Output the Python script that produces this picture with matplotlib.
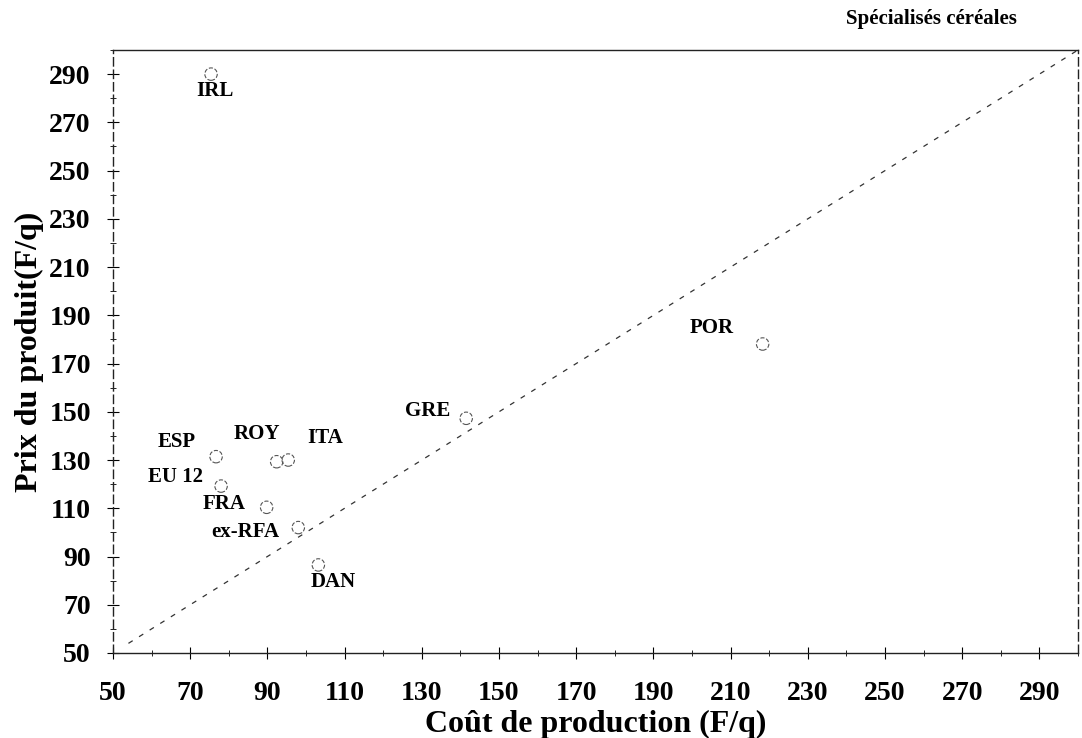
import numpy as np
import matplotlib
matplotlib.use("Agg")
import matplotlib.pyplot as plt
from matplotlib.ticker import MultipleLocator

plt.rcParams['font.family'] = ['Liberation Serif', 'DejaVu Serif']
plt.rcParams['font.weight'] = 'bold'

# data: cost of production (x) vs product price (y)
pays = ['IRL', 'POR', 'GRE', 'ESP', 'ROY', 'ITA', 'EU 12', 'FRA', 'ex-RFA', 'DAN']
cout = [75.4, 218.3, 141.5, 76.7, 92.4, 95.4, 78.0, 89.8, 98.0, 103.2]
prix = [290.0, 178.1, 147.3, 131.4, 129.3, 130.0, 119.2, 110.4, 102.0, 86.5]

ticks = list(range(50, 300, 20))

# label offsets in pixels
offsets = {
    'IRL': (4, -17), 'POR': (-51, 16), 'GRE': (-39, 7), 'ESP': (-39, 15),
    'ROY': (-20, 28), 'ITA': (37, 22), 'EU 12': (-46, 9), 'FRA': (-43, 3),
    'ex-RFA': (-53, -4), 'DAN': (15, -17),
}

fig = plt.figure(figsize=(10.82, 7.38), dpi=100)
ax = fig.add_axes([113 / 1082, 1 - 653 / 738, (1078 - 113) / 1082, (653 - 50) / 738])

ax.set_xlim(50, 300)
ax.set_ylim(50, 300)

# diagonal y = x
diag = np.array([54, 300])
ax.plot(diag, diag, color='#333333', lw=0.9, dashes=(4, 6))

ax.scatter(cout, prix, s=80, facecolors='none', edgecolors='#555555',
           linewidths=0.8, linestyles='--', zorder=3)

for p, x, y in zip(pays, cout, prix):
    dx, dy = offsets[p]
    ax.annotate(p, (x, y), xytext=(dx, dy), textcoords='offset pixels',
                ha='center', va='center', fontsize=15, fontweight='bold')

ax.set_xticks(ticks)
ax.set_yticks(ticks)
ax.xaxis.set_minor_locator(MultipleLocator(10))
ax.yaxis.set_minor_locator(MultipleLocator(10))
ax.tick_params(which='major', direction='inout', length=8, width=0.8,
               labelsize=20, pad=12)
ax.tick_params(axis='x', which='major', pad=16)
ax.tick_params(which='minor', direction='inout', length=4, width=0.6)
for lab in ax.get_xticklabels() + ax.get_yticklabels():
    lab.set_fontweight('bold')

for s in ax.spines.values():
    s.set_linewidth(1.0)
    s.set_color('#222222')
ax.spines['left'].set_linestyle((0, (6, 3)))
ax.spines['right'].set_linestyle((0, (6, 3)))

ax.set_xlabel('Coût de production (F/q)', fontsize=23, fontweight='bold', labelpad=3)
ax.set_ylabel('Prix du produit(F/q)', fontsize=23, fontweight='bold', labelpad=4)

fig.text(931 / 1082, 1 - 19 / 738, 'Spécialisés céréales', ha='center', va='center',
         fontsize=15, fontweight='bold')

fig.savefig('out.png', dpi=100)
